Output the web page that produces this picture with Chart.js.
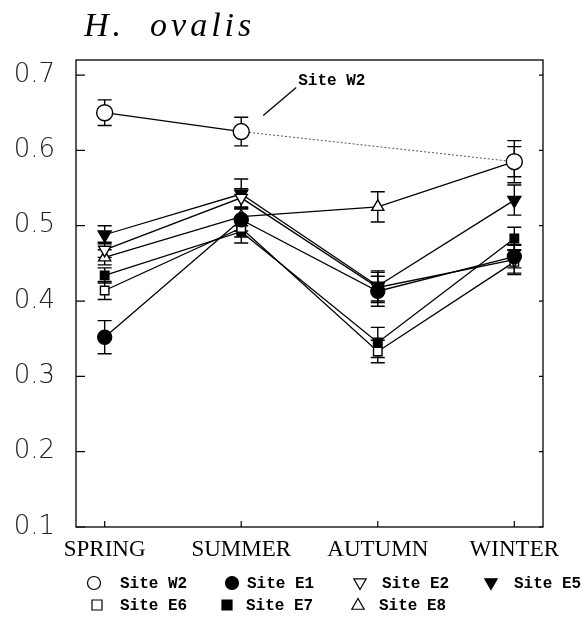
<!DOCTYPE html>
<html>
<head>
<meta charset="utf-8">
<script src="https://cdn.jsdelivr.net/npm/chart.js@4.4.1/dist/chart.umd.min.js"></script>
<style>
html,body{margin:0;padding:0;background:#fff;}
#wrap{width:585px;height:620px;}
</style>
</head>
<body>
<div id="wrap"><canvas id="c" width="585" height="620"></canvas></div>
<script>
const chartTitle = "H.  ovalis";
const seasons = ["SPRING", "SUMMER", "AUTUMN", "WINTER"];
const yTicks = [0.1, 0.2, 0.3, 0.4, 0.5, 0.6, 0.7];

const siteW2 = [0.650, 0.625, null, 0.585];
const siteE1 = [0.352, 0.508, 0.413, 0.459];
const siteE2 = [0.468, 0.537, 0.418, 0.455];
const siteE5 = [0.488, 0.542, 0.420, 0.534];
const siteE6 = [0.414, 0.497, 0.333, 0.452];
const siteE7 = [0.434, 0.492, 0.345, 0.483];
const siteE8 = [0.458, 0.512, 0.525, 0.585];

const errW2 = [0.017, 0.019, null, 0.020];
const errE1 = [0.022, 0.015, 0.020, 0.015];
const errE2 = [0.010, 0.012, 0.020, 0.020];
const errE5 = [0.012, 0.020, 0.020, 0.020];
const errE6 = [0.012, 0.012, 0.015, 0.015];
const errE7 = [0.010, 0.015, 0.020, 0.015];
const errE8 = [0.010, 0.012, 0.020, 0.028];

const siteNames = ["Site W2", "Site E1", "Site E2", "Site E5", "Site E6", "Site E7", "Site E8"];
const annotationText = "Site W2";

const series = [siteW2, siteE1, siteE2, siteE5, siteE6, siteE7, siteE8];
const errs = [errW2, errE1, errE2, errE5, errE6, errE7, errE8];
// marker styles: [pointStyle, rotation, filled, radius]
const markers = [
  ['circle', 0, false, 8],
  ['circle', 0, true, 7],
  ['triangle', 180, false, 7],
  ['triangle', 180, true, 7.5],
  ['rect', 0, false, 6],
  ['rect', 0, true, 6],
  ['triangle', 0, false, 7]
];

const toPts = arr => arr.map((v, i) => ({x: i, y: v}));
const isGap = ctx => (ctx.p1DataIndex - ctx.p0DataIndex > 1 || ctx.p0.skip || ctx.p1.skip);

const datasets = series.map((s, k) => {
  const m = markers[k];
  const ds = {
    label: siteNames[k],
    data: toPts(s),
    borderColor: '#000',
    borderWidth: 1.3,
    pointStyle: m[0],
    rotation: m[1],
    pointRadius: m[3],
    pointBackgroundColor: m[2] ? '#000' : '#fff',
    pointBorderColor: '#000',
    pointBorderWidth: 1.4,
    spanGaps: true,
    tension: 0
  };
  if (k === 0) {
    ds.segment = {
      borderDash: ctx => isGap(ctx) ? [2, 2] : undefined,
      borderColor: ctx => isGap(ctx) ? '#555' : undefined,
      borderWidth: ctx => isGap(ctx) ? 1 : undefined
    };
  }
  return ds;
});

const errorBars = {
  id: 'errorBars',
  beforeDatasetsDraw(chart) {
    const ctx = chart.ctx, xs = chart.scales.x, ys = chart.scales.y;
    ctx.save();
    ctx.strokeStyle = '#000';
    ctx.lineWidth = 1.4;
    series.forEach((s, k) => {
      s.forEach((v, i) => {
        const e = errs[k][i];
        if (v == null || e == null) return;
        const x = xs.getPixelForValue(i);
        const y1 = ys.getPixelForValue(v + e);
        const y2 = ys.getPixelForValue(v - e);
        ctx.beginPath();
        ctx.moveTo(x, y1); ctx.lineTo(x, y2);
        ctx.moveTo(x - 7, y1); ctx.lineTo(x + 7, y1);
        ctx.moveTo(x - 7, y2); ctx.lineTo(x + 7, y2);
        ctx.stroke();
      });
    });
    ctx.restore();
  }
};

function drawMarker(ctx, k, x, y, r) {
  const m = markers[k];
  ctx.beginPath();
  if (m[0] === 'circle') {
    ctx.arc(x, y, r, 0, Math.PI * 2);
  } else if (m[0] === 'rect') {
    ctx.rect(x - r, y - r, 2 * r, 2 * r);
  } else {
    const d = m[1] === 180 ? -1 : 1;
    ctx.moveTo(x, y - d * r);
    ctx.lineTo(x + r * 0.95, y + d * r * 0.65);
    ctx.lineTo(x - r * 0.95, y + d * r * 0.65);
    ctx.closePath();
  }
  ctx.fillStyle = m[2] ? '#000' : '#fff';
  ctx.fill();
  ctx.strokeStyle = '#000';
  ctx.lineWidth = 1.2;
  ctx.stroke();
}

const decor = {
  id: 'decor',
  afterDraw(chart) {
    const ctx = chart.ctx, a = chart.chartArea, xs = chart.scales.x, ys = chart.scales.y;
    ctx.save();
    // frame
    ctx.strokeStyle = '#000';
    ctx.lineWidth = 1.3;
    ctx.strokeRect(a.left, a.top, a.right - a.left, a.bottom - a.top);
    // inward ticks
    ctx.lineWidth = 1.2;
    ctx.beginPath();
    yTicks.forEach(v => {
      const y = ys.getPixelForValue(v);
      ctx.moveTo(a.left, y); ctx.lineTo(a.left + 9, y);
      ctx.moveTo(a.right, y); ctx.lineTo(a.right - 4, y);
    });
    seasons.forEach((s, i) => {
      const x = xs.getPixelForValue(i);
      ctx.moveTo(x, a.bottom); ctx.lineTo(x, a.bottom - 6);
    });
    ctx.stroke();

    // title
    ctx.fillStyle = '#000';
    ctx.font = 'italic 34px "Liberation Serif"';
    ctx.letterSpacing = '4px';
    ctx.textAlign = 'left';
    ctx.textBaseline = 'alphabetic';
    ctx.fillText(chartTitle, 84, 36);
    ctx.letterSpacing = '0px';

    // annotation
    const px = xs.getPixelForValue(1), py = ys.getPixelForValue(siteW2[1]);
    ctx.lineWidth = 1.3;
    ctx.beginPath();
    ctx.moveTo(px + 22, py - 16);
    ctx.lineTo(px + 55, py - 44);
    ctx.stroke();
    ctx.font = 'bold 16px "Liberation Mono"';
    ctx.fillText(annotationText, px + 57, py - 47);

    // legend
    const rows = [
      [[0, 94, 120], [1, 232, 247], [2, 360, 382], [3, 491, 514]],
      [[4, 97, 120], [5, 227, 246], [6, 358, 379]]
    ];
    const rowY = [583, 605];
    ctx.textBaseline = 'middle';
    rows.forEach((row, r) => {
      row.forEach(([k, mx, tx]) => {
        const rr = markers[k][0] === 'rect' ? 5 : 6.5;
        drawMarker(ctx, k, mx, rowY[r], rr);
        ctx.fillStyle = '#000';
        ctx.font = 'bold 16px "Liberation Mono"';
        ctx.fillText(siteNames[k], tx, rowY[r] + 1);
      });
    });
    ctx.restore();
  }
};

new Chart(document.getElementById('c'), {
  type: 'line',
  data: { datasets },
  options: {
    responsive: false,
    animation: false,
    layout: { padding: { left: 0, top: 60, right: 42, bottom: 0 } },
    plugins: { legend: { display: false }, tooltip: { enabled: false }, title: { display: false } },
    scales: {
      x: {
        type: 'linear',
        min: -0.21,
        max: 3.21,
        afterBuildTicks: s => { s.ticks = seasons.map((_, i) => ({value: i})); },
        afterFit: s => { s.height = 93; },
        grid: { display: false, drawTicks: false },
        border: { display: false },
        ticks: {
          padding: 9,
          color: '#000',
          font: { family: '"Liberation Serif"', size: 23 },
          callback: v => seasons[v] ?? '',
          maxRotation: 0, autoSkip: false
        }
      },
      y: {
        min: 0.1,
        max: 0.72,
        afterBuildTicks: s => { s.ticks = yTicks.map(v => ({value: v})); },
        afterFit: s => { s.width = 76; },
        grid: { display: false, drawTicks: false },
        border: { display: false },
        ticks: {
          padding: 21,
          color: '#222',
          font: { family: '"DejaVu Sans"', size: 26, weight: '300' },
          callback: v => Number(v).toFixed(1)
        }
      }
    }
  },
  plugins: [errorBars, decor]
});
</script>
</body>
</html>
